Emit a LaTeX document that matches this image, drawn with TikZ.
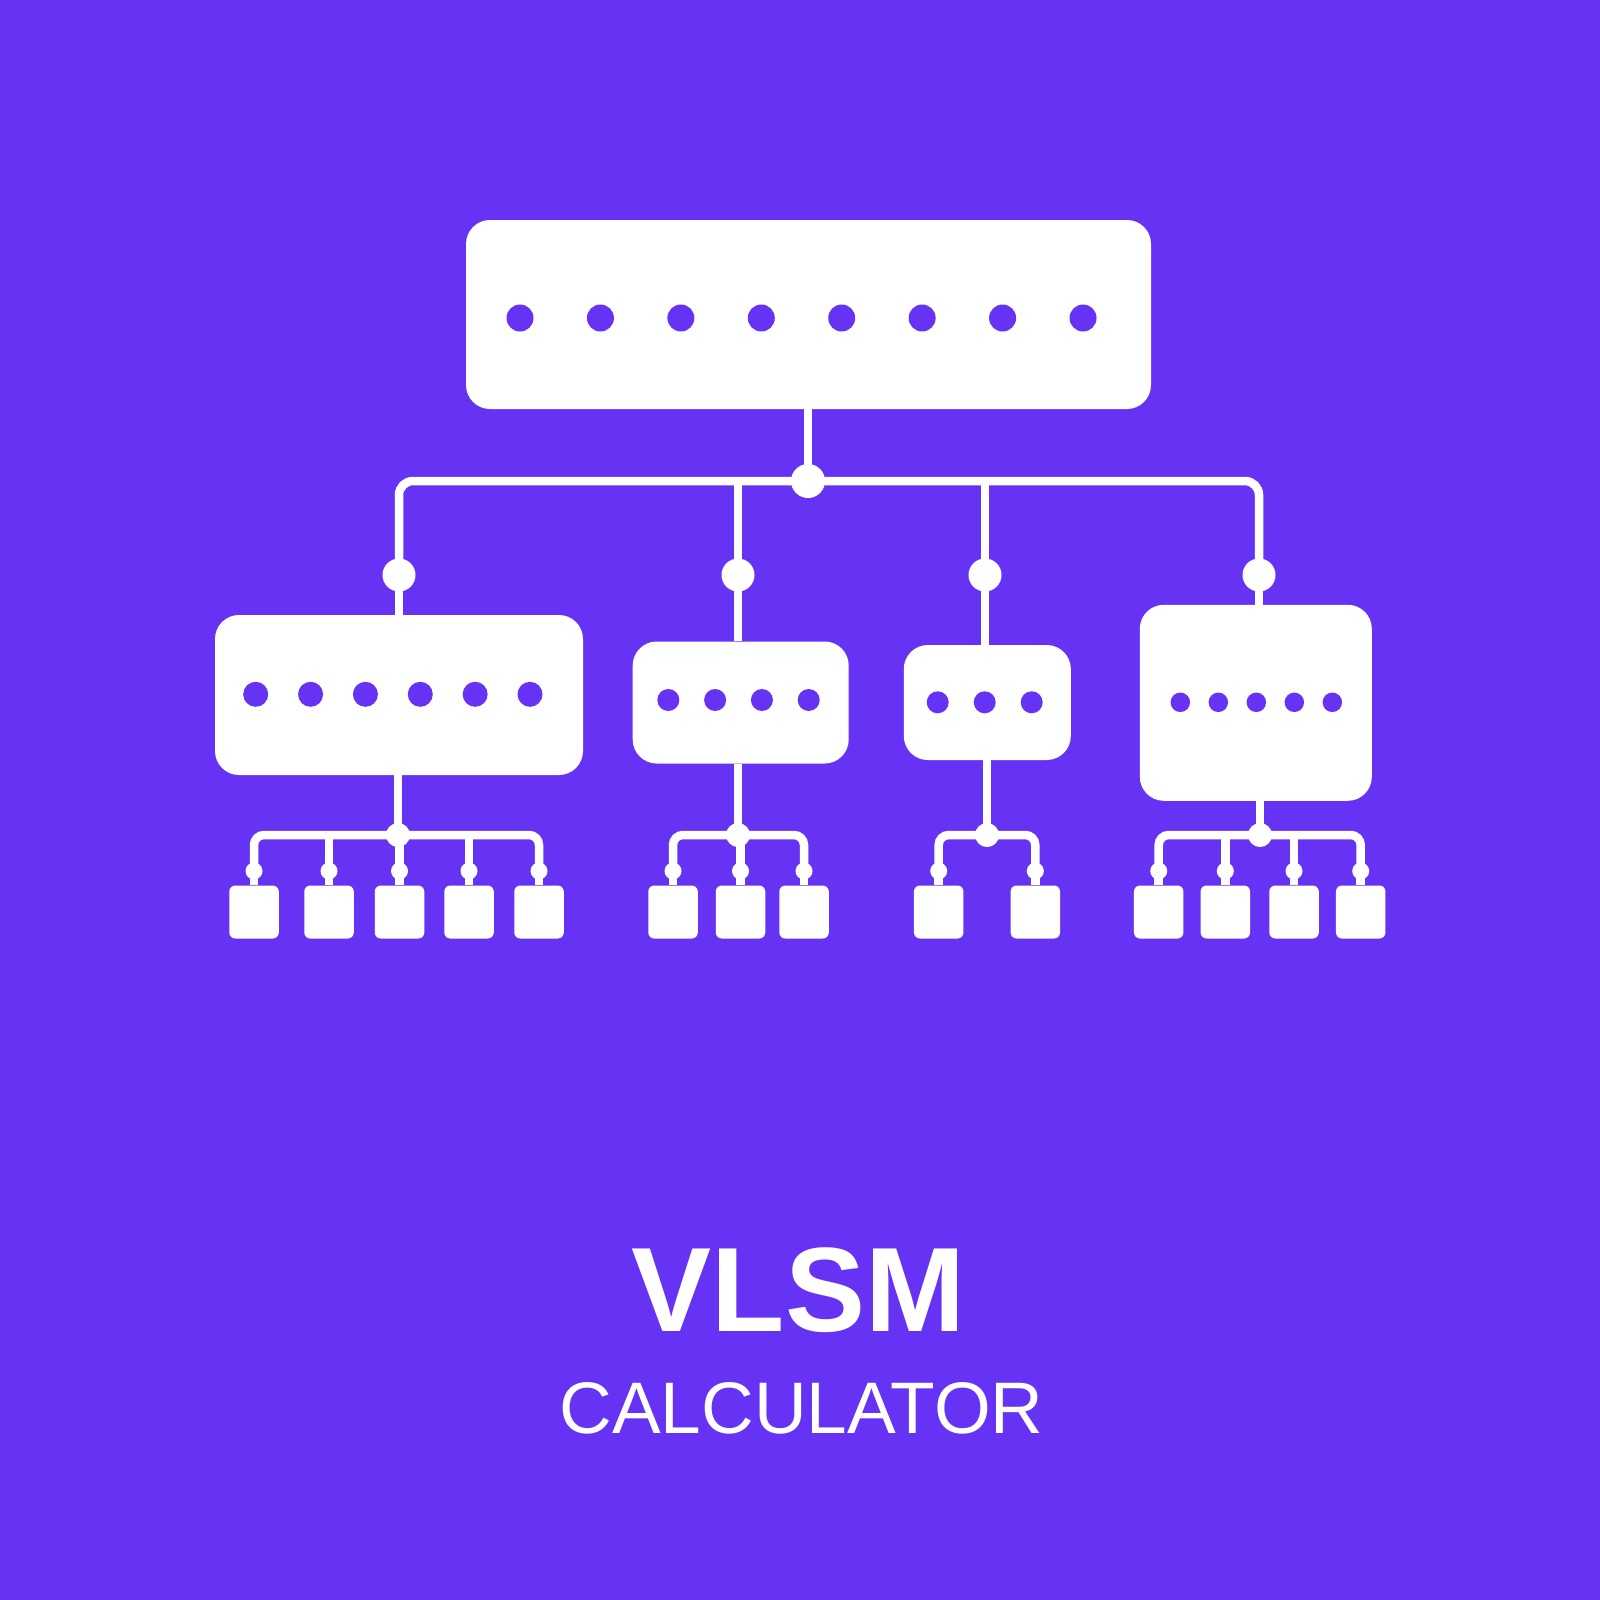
\documentclass[tikz,border=0pt]{standalone}
\usepackage{fontspec}
\setmainfont{Liberation Sans}
\definecolor{vlsmbg}{HTML}{6633F4}
\tikzset{
  netbox/.style={fill=white, rounded corners=24pt, inner sep=0pt},
  leafbox/.style={fill=white, rounded corners=6pt, minimum width=49.5pt, minimum height=53pt, inner sep=0pt},
  hole/.style={circle, fill=vlsmbg, inner sep=0pt},
  joint/.style={circle, fill=white, inner sep=0pt},
  wire/.style={white, line width=8.5pt},
}
\begin{document}
\begin{tikzpicture}[x=1pt,y=-1pt]
\fill[vlsmbg] (0,0) rectangle (1600,1600);
% main network
\node[netbox, minimum width=685pt, minimum height=189pt] (core) at (808.5,314.5) {};
\foreach \i in {0,...,7}
  \node[hole, minimum size=27pt] (core-h\i) at (520+80.43*\i,318) {};
% subnets
\node[netbox, minimum width=368pt, minimum height=160pt] (netA) at (399,695) {};
\node[netbox, minimum width=216pt, minimum height=122pt] (netB) at (740.7,702.5) {};
\node[netbox, minimum width=167pt, minimum height=115pt] (netC) at (987.3,702.5) {};
\node[netbox, minimum width=232pt, minimum height=196pt] (netD) at (1255.8,702.8) {};
\foreach \i in {0,...,5}
  \node[hole, minimum size=25pt] (netA-h\i) at (255.7+54.86*\i,694.3) {};
\foreach \i in {0,...,3}
  \node[hole, minimum size=22pt] (netB-h\i) at (668.3+46.8*\i,700) {};
\foreach \i in {0,...,2}
  \node[hole, minimum size=22pt] (netC-h\i) at (937.7+47*\i,702.3) {};
\foreach \i in {0,...,4}
  \node[hole, minimum size=19.5pt] (netD-h\i) at (1180.3+38*\i,702.3) {};
% first split
\node[joint, minimum size=34pt] (jcore) at (808,481) {};
\foreach \n/\x in {A/399,B/738,C/985,D/1259}
  \node[joint, minimum size=33pt] (j\n) at (\x,575) {};
\draw[wire] (jcore |- core.south) -- (jcore.center);
\draw[wire, rounded corners=14pt] (jA.center) -- (jA |- jcore) -- (jD |- jcore) -- (jD.center);
\foreach \n in {B,C}
  \draw[wire] (j\n |- jcore) -- (j\n.center);
\foreach \n in {A,B,C,D}
  \draw[wire] (j\n.center) -- (j\n |- net\n.north);
% second split
\foreach \n/\x in {A/398,B/738,C/987,D/1260}{
  \node[joint, minimum size=24pt] (s\n) at (\x,835) {};
  \draw[wire] (s\n.center) -- (s\n |- net\n.south);
}
\foreach \x [count=\k] in {254,329,399.5,469,539}{
  \node[leafbox] (leafA\k) at (\x,912) {};
  \node[joint, minimum size=17pt] (tA\k) at (\x,871) {};
  \draw[wire] (tA\k.center) -- (leafA\k.north);
}
\foreach \k in {2,3,4}
  \draw[wire] (tA\k.center) -- (tA\k |- sA);
\draw[wire, rounded corners=10pt] (tA1.center) -- (tA1 |- sA) -- (tA5 |- sA) -- (tA5.center);
\foreach \x [count=\k] in {673,740.5,804}{
  \node[leafbox] (leafB\k) at (\x,912) {};
  \node[joint, minimum size=17pt] (tB\k) at (\x,871) {};
  \draw[wire] (tB\k.center) -- (leafB\k.north);
}
\draw[wire] (tB2.center) -- (tB2 |- sB);
\draw[wire, rounded corners=10pt] (tB1.center) -- (tB1 |- sB) -- (tB3 |- sB) -- (tB3.center);
\foreach \x [count=\k] in {938.7,1035.3}{
  \node[leafbox] (leafC\k) at (\x,912) {};
  \node[joint, minimum size=17pt] (tC\k) at (\x,871) {};
  \draw[wire] (tC\k.center) -- (leafC\k.north);
}
\draw[wire, rounded corners=10pt] (tC1.center) -- (tC1 |- sC) -- (tC2 |- sC) -- (tC2.center);
\foreach \x [count=\k] in {1158.7,1225.3,1294,1360.7}{
  \node[leafbox] (leafD\k) at (\x,912) {};
  \node[joint, minimum size=17pt] (tD\k) at (\x,871) {};
  \draw[wire] (tD\k.center) -- (leafD\k.north);
}
\foreach \k in {2,3}
  \draw[wire] (tD\k.center) -- (tD\k |- sD);
\draw[wire, rounded corners=10pt] (tD1.center) -- (tD1 |- sD) -- (tD4 |- sD) -- (tD4.center);
% title
\node[anchor=base, inner sep=0pt, text=white, font=\fontsize{120}{120}\selectfont\bfseries] (title) at (798.5,1331) {VLSM};
\node[anchor=base, inner sep=0pt, text=white, font=\fontsize{73}{73}\selectfont] (subtitle) at (801.5,1433) {CALCULATOR};
\end{tikzpicture}
\end{document}
